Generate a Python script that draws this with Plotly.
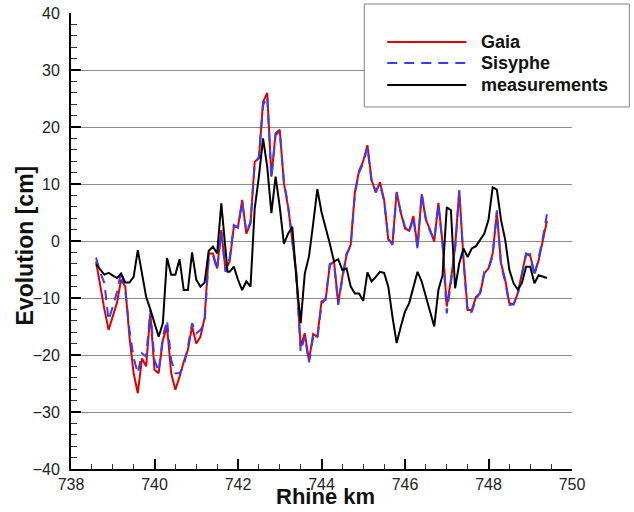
import plotly.graph_objects as go

km = [738.6, 738.7, 738.8, 738.9, 739.0, 739.1, 739.2, 739.3, 739.4, 739.5,
      739.6, 739.7, 739.8, 739.9, 740.0, 740.1, 740.2, 740.3, 740.4, 740.5,
      740.6, 740.7, 740.8, 740.9, 741.0, 741.1, 741.2, 741.3, 741.4, 741.5,
      741.6, 741.7, 741.8, 741.9, 742.0, 742.1, 742.2, 742.3, 742.4, 742.5,
      742.6, 742.7, 742.8, 742.9, 743.0, 743.1, 743.2, 743.3, 743.4, 743.5,
      743.6, 743.7, 743.8, 743.9, 744.0, 744.1, 744.2, 744.3, 744.4, 744.5,
      744.6, 744.7, 744.8, 744.9, 745.0, 745.1, 745.2, 745.3, 745.4, 745.5,
      745.6, 745.7, 745.8, 745.9, 746.0, 746.1, 746.2, 746.3, 746.4, 746.5,
      746.6, 746.7, 746.8, 746.9, 747.0, 747.1, 747.2, 747.3, 747.4, 747.5,
      747.6, 747.7, 747.8, 747.9, 748.0, 748.1, 748.2, 748.3, 748.4, 748.5,
      748.6, 748.7, 748.8, 748.9, 749.0, 749.1, 749.2, 749.3, 749.4]

gaia = [-3.6, -8.0, -12.0, -15.6, -13.2, -10.9, -6.8, -8.0, -16.8, -23.2,
        -26.7, -20.6, -22.0, -12.7, -22.6, -23.2, -17.4, -15.0, -23.2, -26.1,
        -23.8, -21.2, -19.1, -15.0, -18.0, -16.8, -13.5, -2.2, -2.2, -4.8,
        1.9, -5.1, -3.6, 2.5, 2.5, 7.2, 1.3, 3.1, 13.9, 14.5,
        24.4, 26.0, 11.3, 18.9, 19.5, 10.1, 6.0, 0.2, -5.7, -18.5,
        -16.2, -21.0, -16.3, -16.8, -10.6, -10.3, -4.2, -3.6, -10.9, -6.3,
        -2.5, -0.6, 8.6, 12.3, 14.0, 16.8, 10.7, 8.5, 10.3, 7.2,
        0.2, -0.4, 8.6, 4.9, 2.2, 1.8, 4.4, -1.0, 8.2, 3.7,
        2.0, -0.1, 6.7, -0.4, -11.5, -6.8, -1.0, 8.9, -3.0, -12.1,
        -12.1, -9.8, -9.2, -5.7, -4.8, -2.2, 4.9, -3.9, -6.8, -10.9,
        -11.1, -9.2, -5.7, -2.2, -2.6, -5.7, -3.4, 0.2, 3.5]

sisyphe = [-2.9, -5.5, -7.4, -13.9, -11.5, -9.0, -5.3, -8.6, -15.6, -20.5,
           -23.2, -19.7, -20.3, -12.1, -20.9, -22.9, -16.8, -13.9, -20.9, -23.2,
           -23.2, -22.0, -18.5, -14.4, -16.2, -15.6, -14.4, -2.8, -2.5, -5.0,
           1.5, -5.4, -3.0, 2.8, 2.3, 6.8, 1.6, 3.3, 13.5, 14.8,
           23.8, 25.4, 11.0, 18.6, 19.2, 10.4, 6.3, 0.0, -6.2, -19.4,
           -16.8, -21.3, -16.8, -17.2, -11.2, -10.0, -4.0, -3.8, -11.2, -6.6,
           -2.2, -0.9, 8.3, 12.0, 13.7, 16.4, 10.4, 8.8, 10.0, 7.0,
           0.5, -0.7, 8.3, 5.1, 2.5, 1.5, 4.1, -1.4, 8.4, 3.9,
           1.7, 0.2, 6.4, -0.7, -12.7, -7.3, -1.5, 8.9, -3.4, -12.7,
           -12.4, -10.2, -9.0, -5.4, -5.0, -2.6, 5.4, -4.3, -7.2, -11.2,
           -11.1, -9.5, -6.0, -2.4, -2.3, -6.1, -3.0, 0.5, 4.7]

meas_km = [738.6, 738.8, 738.9, 739.0, 739.1, 739.2, 739.3, 739.4, 739.5, 739.6,
           739.7, 739.8, 739.9, 740.0, 740.1, 740.2, 740.3, 740.4, 740.5, 740.6,
           740.7, 740.8, 740.9, 741.0, 741.1, 741.2, 741.3, 741.4, 741.5, 741.6,
           741.7, 741.75, 741.8, 741.9, 742.0, 742.1, 742.2, 742.3, 742.4, 742.5,
           742.6, 742.7, 742.8, 742.9, 743.0, 743.1, 743.2, 743.3, 743.4, 743.5,
           743.6, 743.7, 743.8, 743.9, 744.0, 744.1, 744.2, 744.3, 744.4, 744.5,
           744.6, 744.7, 744.8, 744.9, 745.0, 745.1, 745.2, 745.3, 745.4, 745.5,
           745.6, 745.7, 745.8, 745.9, 746.0, 746.1, 746.2, 746.3, 746.4, 746.5,
           746.6, 746.7, 746.8, 746.9, 747.0, 747.1, 747.2, 747.3, 747.4, 747.5,
           747.6, 747.7, 747.8, 747.9, 748.0, 748.1, 748.2, 748.3, 748.4, 748.5,
           748.6, 748.7, 748.8, 748.9, 749.0, 749.1, 749.2, 749.4]

measurements = [-4.1, -5.9, -5.6, -6.1, -6.5, -5.7, -7.3, -7.3, -6.3, -1.6,
                -5.5, -9.8, -12.0, -14.5, -16.8, -14.4, -3.0, -5.9, -5.9, -3.2,
                -8.6, -8.6, -2.0, -6.8, -8.0, -7.3, -1.7, -1.0, -2.2, 6.6,
                -2.2, -5.4, -5.4, -4.5, -6.8, -8.6, -7.1, -8.0, 5.7, 11.3,
                18.0, 13.0, 4.9, 11.3, 6.0, -0.5, 1.3, 2.5, -6.8, -14.4,
                -5.7, -2.7, 3.0, 9.1, 5.1, 2.5, -0.5, -3.6, -3.2, -5.1,
                -4.8, -8.0, -9.2, -9.2, -10.5, -5.5, -7.1, -6.3, -5.4, -5.6,
                -8.0, -13.3, -17.9, -15.0, -12.4, -10.9, -8.0, -5.4, -7.1, -9.8,
                -12.4, -15.0, -8.6, -6.0, 5.9, 5.4, -8.3, -3.9, -1.3, -2.8,
                -1.3, -0.9, 0.2, 1.3, 3.7, 9.4, 9.0, 3.7, 0.2, -5.1,
                -7.4, -8.5, -7.4, -4.5, -4.5, -7.4, -6.0, -6.5]

series_names = ["Gaia", "Sisyphe", "measurements"]
colors = ["#e00000", "#3a3aff", "#000000"]
dashes = ["solid", "10px,7px", "solid"]

x_ticks = [738, 740, 742, 744, 746, 748, 750]
y_ticks = [-40, -30, -20, -10, 0, 10, 20, 30, 40]

FONT = "Liberation Sans, Arial, Helvetica, sans-serif"

fig = go.Figure()
fig.add_trace(go.Scatter(x=km, y=gaia, mode="lines", name=series_names[0],
                         line=dict(color=colors[0], width=2, dash=dashes[0]),
                         showlegend=False))
fig.add_trace(go.Scatter(x=km, y=sisyphe, mode="lines", name=series_names[1],
                         line=dict(color=colors[1], width=2, dash=dashes[1]),
                         showlegend=False))
fig.add_trace(go.Scatter(x=meas_km, y=measurements, mode="lines", name=series_names[2],
                         line=dict(color=colors[2], width=2, dash=dashes[2]),
                         showlegend=False))

# custom legend box (paper coords)
shapes = [dict(type="rect", xref="paper", yref="paper", x0=0.5854, x1=1.1144,
               y0=0.794, y1=1.0197, line=dict(color="#808080", width=1),
               fillcolor="white", layer="above")]
ly = [0.9364, 0.8904, 0.8421]
annotations = []
for name, c, d, yy in zip(series_names, colors, dashes, ly):
    shapes.append(dict(type="line", xref="paper", yref="paper", x0=0.6313, x1=0.789,
                       y0=yy, y1=yy, line=dict(color=c, width=2, dash=d), layer="above"))
    annotations.append(dict(xref="paper", yref="paper", x=0.815, y=yy, text="<b>%s</b>" % name,
                            showarrow=False, xanchor="left", yanchor="middle",
                            font=dict(family=FONT, size=18, color="#111")))

# axis titles
annotations.append(dict(xref="paper", yref="paper", x=0.507, y=-0.0932, text="<b>Rhine km</b>",
                        showarrow=False, xanchor="center", yanchor="bottom",
                        font=dict(family=FONT, size=22, color="#111")))
annotations.append(dict(xref="paper", yref="paper", x=-0.092, y=0.49, text="<b>Evolution [cm]</b>",
                        showarrow=False, xanchor="center", yanchor="middle", textangle=-90,
                        font=dict(family=FONT, size=23, color="#111")))

fig.update_layout(
    width=634, height=512, autosize=False,
    margin=dict(l=71, r=62, t=13, b=43),
    plot_bgcolor="white", paper_bgcolor="white",
    shapes=shapes, annotations=annotations,
    font=dict(family=FONT, size=16, color="#222"),
)
fig.update_xaxes(
    range=[738, 750], tickvals=x_ticks, automargin=False,
    showgrid=False, zeroline=False,
    showline=True, linecolor="black", linewidth=2,
    ticks="inside", ticklen=10, tickwidth=2, tickcolor="black",
    minor=dict(ticks="inside", dtick=0.5, ticklen=5, tickwidth=1, tickcolor="#333", showgrid=False),
    tickfont=dict(family=FONT, size=16, color="#222"),
)
fig.update_yaxes(
    range=[-40, 40], tickvals=y_ticks, automargin=False,
    showgrid=True, gridcolor="#8c8c8c", gridwidth=1, zeroline=False,
    showline=True, linecolor="black", linewidth=2,
    ticks="inside", ticklen=10, tickwidth=2, tickcolor="black",
    minor=dict(ticks="inside", dtick=2, ticklen=6, tickwidth=1, tickcolor="#333", showgrid=False),
    tickfont=dict(family=FONT, size=16, color="#222"),
    ticklabelstandoff=6,
)

fig.write_html(
    "out.html",
    config={"displayModeBar": False},
    post_script="document.body.style.margin='0';document.body.style.overflow='hidden';",
)
